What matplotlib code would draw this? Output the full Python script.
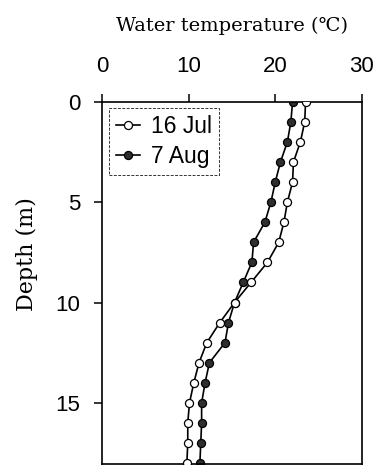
import numpy as np
import matplotlib.pyplot as plt

depth = list(range(0, 19))
jul_temp = [23.5, 23.4, 22.9, 22.1, 22.0, 21.4, 21.0, 20.4, 19.1, 17.2,
            15.3, 13.6, 12.1, 11.2, 10.6, 10.1, 9.9, 9.9, 9.8]
aug_temp = [22.0, 21.8, 21.4, 20.6, 20.0, 19.5, 18.8, 17.5, 17.3, 16.3,
            15.3, 14.6, 14.2, 12.4, 11.9, 11.5, 11.5, 11.4, 11.3]
xticks = [0, 10, 20, 30]
yticks = [0, 5, 10, 15]

fig = plt.figure(figsize=(3.75, 4.65), dpi=100)
ax = fig.add_axes([0.272, 0.002, 0.693, 0.779])

ax.plot(jul_temp, depth, color='black', linewidth=1.2, marker='o',
        markersize=5.8, markerfacecolor='white', markeredgecolor='black',
        markeredgewidth=0.9, label='16 Jul', zorder=3)
ax.plot(aug_temp, depth, color='black', linewidth=1.2, marker='o',
        markersize=5.8, markerfacecolor='#2e2e2e', markeredgecolor='black',
        markeredgewidth=0.9, label='7 Aug', zorder=2)

ax.set_xlim(0, 30)
ax.set_ylim(18.05, 0)
ax.xaxis.tick_top()
ax.xaxis.set_label_position('top')
ax.set_xticks(xticks)
ax.set_yticks(yticks)
ax.tick_params(direction='out', length=5.8, width=1.1, labelsize=16)
ax.tick_params(axis='x', pad=12)
ax.tick_params(axis='y', pad=10)
for lab in ax.get_xticklabels() + ax.get_yticklabels():
    lab.set_fontfamily('Liberation Sans')

for s in ax.spines.values():
    s.set_linewidth(1.2)

serif = ['DejaVu Serif']
ax.set_xlabel('Water temperature (\u2103)', family=serif, fontsize=14, labelpad=18)
ax.set_ylabel('Depth (m)', family=serif, fontsize=16)
ax.yaxis.set_label_coords(-0.246, 0.58)

# legend box roughly 114 x 63 px in the reference
leg = ax.legend(loc='upper left', bbox_to_anchor=(0.027, 0.983), frameon=True,
                fancybox=False, handlelength=1.05, handletextpad=0.5,
                borderpad=0.3, labelspacing=0.3, borderaxespad=0.0,
                prop={'family': 'Liberation Sans', 'size': 16.5})
leg.get_frame().set_edgecolor('black')
leg.get_frame().set_linewidth(0.7)
leg.get_frame().set_linestyle((0, (3, 1.5)))

plt.savefig('out.png', dpi=100)
